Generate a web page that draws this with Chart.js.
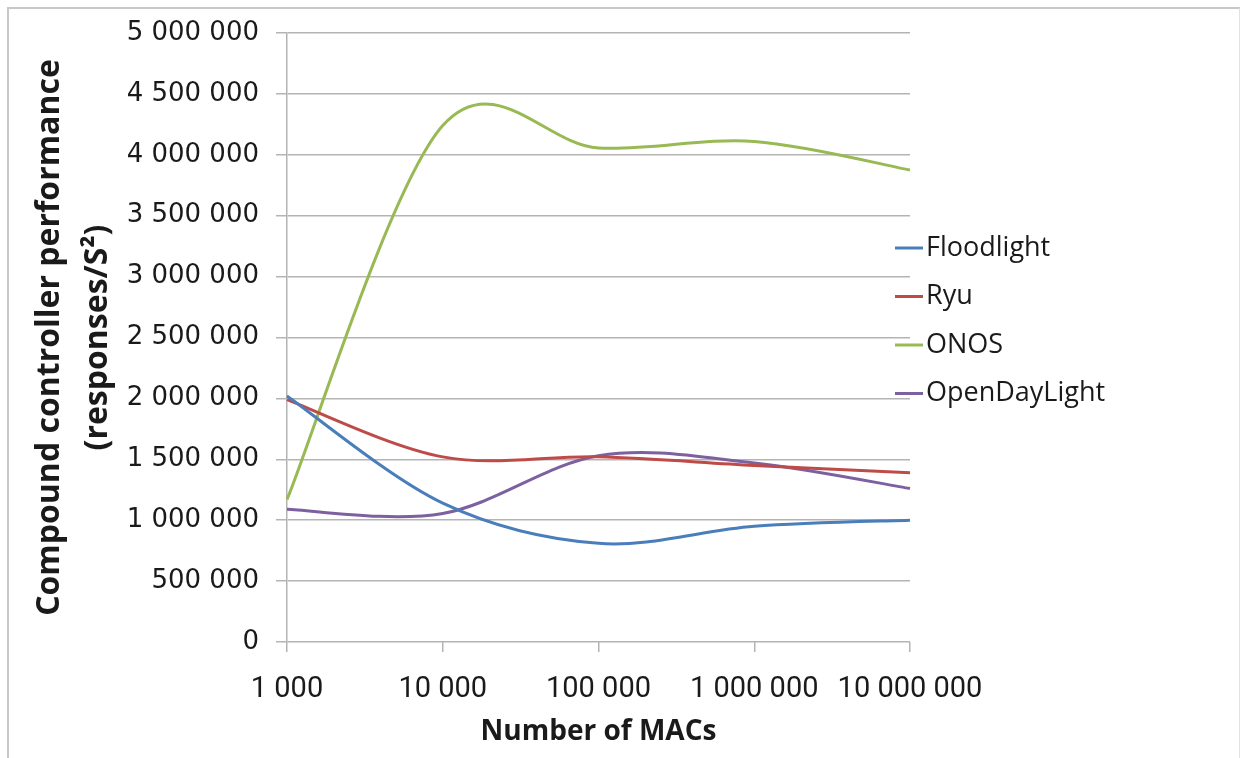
<!DOCTYPE html>
<html>
<head>
<meta charset="utf-8">
<script src="https://cdn.jsdelivr.net/npm/chart.js@4.4.0/dist/chart.umd.min.js"></script>
<style>
  html, body { margin: 0; padding: 0; background: #fff; }
  #wrap { position: relative; width: 1240px; height: 758px; overflow: hidden; }
  #frame { position: absolute; left: 7px; top: 7px; width: 1230px; height: 800px;
           border-left: 2px solid #c8c8c8; border-top: 2px solid #c8c8c8; border-right: 1px solid #e2e2e2; }
  canvas { position: absolute; left: 0; top: 0; }
</style>
</head>
<body>
<div id="wrap">
  <div id="frame"></div>
  <canvas id="lineChart" width="1240" height="758"></canvas>
</div>
<script>
// Data
const macs = ['1 000', '10 000', '100 000', '1 000 000', '10 000 000'];
const floodlight = [2020000, 1140000, 810000, 950000, 1000000];
const ryu = [1990000, 1520000, 1520000, 1450000, 1390000];
const onos = [1170000, 4240000, 4055000, 4110000, 3875000];
const openDayLight = [1090000, 1055000, 1530000, 1470000, 1260000];

const seriesNames = ['Floodlight', 'Ryu', 'ONOS', 'OpenDayLight'];
const seriesColors = ['#4a7ebb', '#be4b48', '#98b954', '#7d60a0'];

const gridColor = '#b4b4b4';
const textColor = '#1a1a1a';

// format numbers with spaces as thousands separators
function spaced(v) {
  return String(v).replace(/\B(?=(\d{3})+(?!\d))/g, ' ');
}

// Excel style smoothing: replace the control points with uniform Catmull-Rom ones
const excelSmooth = {
  id: 'excelSmooth',
  beforeDatasetDraw(chart, args) {
    const line = args.meta.dataset;
    line.updateControlPoints(chart.chartArea, 'x');
    const pts = line.points;
    for (let i = 0; i < pts.length; i++) {
      const p = pts[i];
      const prev = pts[i - 1] || p;
      const next = pts[i + 1] || p;
      const tx = (next.x - prev.x) / 6;
      const ty = (next.y - prev.y) / 6;
      p.cp1x = p.x - tx;
      p.cp1y = p.y - ty;
      p.cp2x = p.x + tx;
      p.cp2y = p.y + ty;
    }
    line._path = undefined;
  }
};

// Legend drawn on the canvas at the right of the plot
const sideLegend = {
  id: 'sideLegend',
  afterDraw(chart) {
    const ctx = chart.ctx;
    ctx.save();
    ctx.font = '27px "Open Sans"';
    ctx.textBaseline = 'middle';
    ctx.fillStyle = textColor;
    chart.data.datasets.forEach((ds, i) => {
      const y = 248 + i * 48.5;
      ctx.strokeStyle = ds.borderColor;
      ctx.lineWidth = 3;
      ctx.beginPath();
      ctx.moveTo(895, y);
      ctx.lineTo(923, y);
      ctx.stroke();
      ctx.fillText(ds.label, 926, y);
    });
    ctx.restore();
  }
};

const allValues = [floodlight, ryu, onos, openDayLight];

const ctx = document.getElementById('lineChart').getContext('2d');
const lineChart = new Chart(ctx, {
  type: 'line',
  data: {
    labels: macs,
    datasets: allValues.map((vals, i) => ({
      label: seriesNames[i],
      data: vals,
      borderColor: seriesColors[i],
      backgroundColor: seriesColors[i],
      borderWidth: 3,
      pointRadius: 0,
      tension: 0.4,
      fill: false,
    })),
  },
  options: {
    responsive: false,
    animation: false,
    layout: { padding: { left: 0, right: 330, top: 33, bottom: 0 } },
    plugins: {
      legend: { display: false },
      tooltip: { enabled: false },
    },
    scales: {
      x: {
        offset: false,
        grid: { drawOnChartArea: false, drawTicks: true, tickLength: 10, color: gridColor, lineWidth: 1.5 },
        border: { display: false },
        ticks: {
          color: textColor,
          font: { family: '"Liberation Sans Narrow", "Roboto", sans-serif', size: 29 },
          padding: 20,
          maxRotation: 0,
          autoSkip: false,
        },
        title: {
          display: true,
          text: 'Number of MACs',
          color: textColor,
          font: { family: '"Open Sans"', size: 28, weight: 'bold' },
          padding: { top: 0, bottom: 9 },
        },
        afterFit(scale) { scale.height = 116; },
      },
      y: {
        min: 0,
        max: 5000000,
        grid: { color: gridColor, lineWidth: 1.5, tickLength: 11 },
        border: { color: gridColor, width: 1.5 },
        ticks: {
          stepSize: 500000,
          color: textColor,
          font: { family: '"DejaVu Sans"', size: 26 },
          padding: 17,
          callback: (v) => spaced(v),
        },
        title: {
          display: true,
          text: ['Compound controller performance', '(responses/S²)'],
          color: textColor,
          font: { family: '"Open Sans"', size: 32, weight: 'bold', lineHeight: 1.5 },
          padding: { top: 26, bottom: 0 },
        },
        afterFit(scale) { scale.width = 287; },
      },
    },
  },
  plugins: [excelSmooth, sideLegend],
});
</script>
</body>
</html>
